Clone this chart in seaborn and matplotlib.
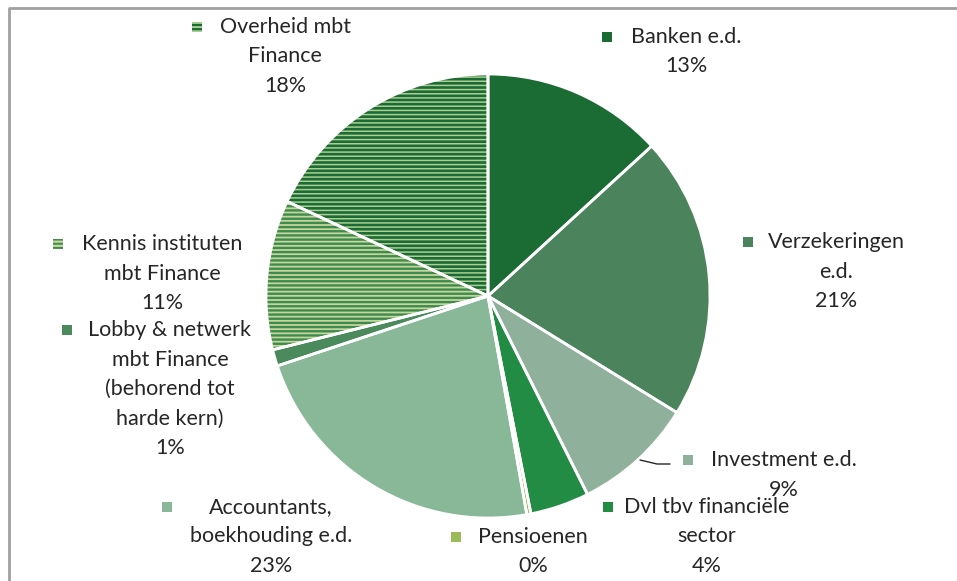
import matplotlib
matplotlib.use("Agg")
import matplotlib.pyplot as plt
import seaborn as sns
import numpy as np

sns.set_theme(style="white")
plt.rcParams['font.family'] = ['Lato', 'DejaVu Sans']
plt.rcParams['hatch.linewidth'] = 1.4

# data, clockwise from 12 o'clock
categories = ["Banken e.d.", "Verzekeringen\ne.d.", "Investment e.d.",
              "Dvl tbv financiële\nsector", "Pensioenen",
              "Accountants,\nboekhouding e.d.",
              "Lobby & netwerk\nmbt Finance\n(behorend tot\nharde kern)",
              "Kennis instituten\nmbt Finance", "Overheid mbt\nFinance"]
shares = [13.2, 20.6, 8.8, 4.3, 0.3, 22.7, 1.2, 10.9, 18.0]
colors = ["#1b6b35", "#4b835d", "#8fb09b", "#238c44", "#9bbb59",
          "#88b898", "#4a8a5c", "#c3d69b", "#1c6a34"]
hatch_colors = [None, None, None, None, None, None, None, "#3f8a4f", "#a9cf92"]
hatch_widths = [None, None, None, None, None, None, None, 1.7, 1.1]

H = 581
fig = plt.figure(figsize=(9.57, 5.81), dpi=100)
ax = fig.add_axes([0, 0, 1, 1])

cx, cy, r = 488, H - 296, 222

# pie body (hatch colour goes through edgecolor)
wedges, _ = ax.pie(shares, colors=colors, startangle=90, counterclock=False,
                   center=(cx, cy), radius=r, frame=True,
                   wedgeprops=dict(linewidth=0))
for w, hc, hw in zip(wedges, hatch_colors, hatch_widths):
    if hc:
        w.set_hatch('----')
        w.set_edgecolor(hc)
        if hasattr(w, 'set_hatch_linewidth'):
            w.set_hatch_linewidth(hw)
# white separators on top
ax.pie(shares, colors=['none'] * len(shares), startangle=90, counterclock=False,
       center=(cx, cy), radius=r, frame=True,
       wedgeprops=dict(linewidth=2, edgecolor='white', facecolor='none'))
ax.set_xlim(0, 957)
ax.set_ylim(0, H)
ax.set_aspect('equal')
ax.axis('off')

# label positions (pixel coords of first line: marker x, text center x, y)
label_pos = [(607, 686, 37), (748, 836, 242), (688, 784, 460),
             (608, 707, 507), (456, 533, 537), (167, 271, 507),
             (67, 170, 330), (58, 162, 244), (197, 285, 27)]
line_h = 29.5
for cat, val, col, hc, (mx, tx, ty) in zip(categories, shares, colors,
                                           hatch_colors, label_pos):
    lines = cat.split("\n") + [f"{round(val):.0f}%"]
    for i, ln in enumerate(lines):
        ax.text(tx, H - (ty + i * line_h), ln, ha='center', va='center',
                fontsize=15.5, color='#262626')
    if hc:
        ax.scatter([mx], [H - ty], marker='s', s=55, color=col,
                   hatch='----', edgecolor=hc, linewidth=0)
    else:
        ax.scatter([mx], [H - ty], marker='s', s=55, color=col, linewidth=0)

# leader line for Investment
ax.plot([640, 657, 670], [H - 460, H - 464, H - 464], color='#262626', lw=1)

# partial frame (top and left)
ax.plot([8.5, 8.5, 957], [0, H - 7.5, H - 7.5], color='#a0a0a0', lw=2,
        solid_capstyle='butt')

fig.savefig("out.png", dpi=100)
